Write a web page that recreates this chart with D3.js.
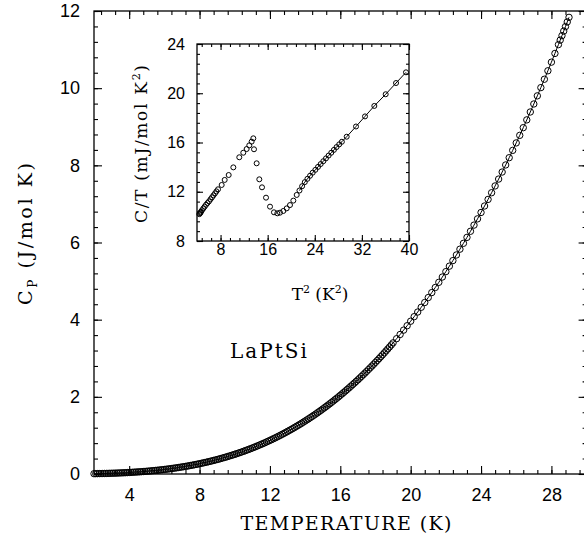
<!DOCTYPE html>
<html>
<head>
<meta charset="utf-8">
<script src="https://cdn.jsdelivr.net/npm/d3@7"></script>
<style>
  body { margin: 0; background: #fff; }
  svg { display: block; }
  .tick text { font-family: "Liberation Sans", Arial, sans-serif; fill: #000; }
  .titolo { font-family: "DejaVu Serif", serif; fill: #000; }
</style>
</head>
<body>
<svg width="584" height="546"></svg>
<script>
// LaPtSi specific heat, Cp vs T, with C/T vs T^2 inset

// DATI - grafico principale (passo fitto sotto 19 K)
var temperatura = [
  2.0, 2.1, 2.2, 2.3, 2.4, 2.5, 2.6, 2.7, 2.8, 2.9,
  3.0, 3.1, 3.2, 3.3, 3.4, 3.5, 3.6, 3.7, 3.8, 3.9,
  4.0, 4.1, 4.2, 4.3, 4.4, 4.5, 4.6, 4.7, 4.8, 4.9,
  5.0, 5.1, 5.2, 5.3, 5.4, 5.5, 5.6, 5.7, 5.8, 5.9,
  6.0, 6.1, 6.2, 6.3, 6.4, 6.5, 6.6, 6.7, 6.8, 6.9,
  7.0, 7.1, 7.2, 7.3, 7.4, 7.5, 7.6, 7.7, 7.8, 7.9,
  8.0, 8.1, 8.2, 8.3, 8.4, 8.5, 8.6, 8.7, 8.8, 8.9,
  9.0, 9.1, 9.2, 9.3, 9.4, 9.5, 9.6, 9.7, 9.8, 9.9,
  10.0, 10.1, 10.2, 10.3, 10.4, 10.5, 10.6, 10.7, 10.8, 10.9,
  11.0, 11.1, 11.2, 11.3, 11.4, 11.5, 11.6, 11.7, 11.8, 11.9,
  12.0, 12.1, 12.2, 12.3, 12.4, 12.5, 12.6, 12.7, 12.8, 12.9,
  13.0, 13.1, 13.2, 13.3, 13.4, 13.5, 13.6, 13.7, 13.8, 13.9,
  14.0, 14.1, 14.2, 14.3, 14.4, 14.5, 14.6, 14.7, 14.8, 14.9,
  15.0, 15.1, 15.2, 15.3, 15.4, 15.5, 15.6, 15.7, 15.8, 15.9,
  16.0, 16.1, 16.2, 16.3, 16.4, 16.5, 16.6, 16.7, 16.8, 16.9,
  17.0, 17.1, 17.2, 17.3, 17.4, 17.5, 17.6, 17.7, 17.8, 17.9,
  18.0, 18.1, 18.2, 18.3, 18.4, 18.5, 18.6, 18.7, 18.8, 18.9,
  19.0, 19.2, 19.4, 19.6, 19.8,
  20.0, 20.2, 20.4, 20.6, 20.8, 21.0, 21.2, 21.4, 21.6, 21.8,
  22.0, 22.2, 22.4, 22.6, 22.8, 23.0, 23.2, 23.4, 23.6, 23.8,
  24.0, 24.2, 24.4, 24.6, 24.8, 25.0, 25.2, 25.4, 25.6, 25.8,
  26.0, 26.2, 26.4, 26.6, 26.8, 27.0, 27.2, 27.4, 27.6, 27.8,
  28.0, 28.2, 28.4, 28.5, 28.6, 28.7, 28.8, 28.9, 29.0
];
var cp = [
  0.008, 0.009, 0.010, 0.011, 0.012, 0.013, 0.014, 0.015, 0.016, 0.018,
  0.019, 0.021, 0.022, 0.024, 0.026, 0.028, 0.030, 0.032, 0.034, 0.037,
  0.039, 0.042, 0.045, 0.048, 0.051, 0.054, 0.057, 0.060, 0.064, 0.067,
  0.071, 0.075, 0.079, 0.084, 0.088, 0.093, 0.097, 0.102, 0.107, 0.112,
  0.118, 0.123, 0.129, 0.135, 0.141, 0.148, 0.154, 0.161, 0.168, 0.175,
  0.182, 0.190, 0.197, 0.205, 0.213, 0.222, 0.230, 0.239, 0.248, 0.257,
  0.267, 0.277, 0.287, 0.297, 0.307, 0.318, 0.329, 0.340, 0.352, 0.363,
  0.375, 0.387, 0.400, 0.413, 0.426, 0.439, 0.453, 0.467, 0.481, 0.495,
  0.510, 0.525, 0.540, 0.556, 0.572, 0.588, 0.605, 0.622, 0.639, 0.656,
  0.674, 0.692, 0.711, 0.730, 0.749, 0.768, 0.788, 0.808, 0.829, 0.850,
  0.871, 0.892, 0.914, 0.936, 0.959, 0.982, 1.005, 1.029, 1.053, 1.078,
  1.103, 1.128, 1.153, 1.179, 1.206, 1.233, 1.260, 1.287, 1.315, 1.344,
  1.373, 1.402, 1.431, 1.461, 1.492, 1.523, 1.554, 1.586, 1.618, 1.651,
  1.684, 1.717, 1.751, 1.786, 1.820, 1.856, 1.891, 1.928, 1.964, 2.001,
  2.039, 2.077, 2.116, 2.155, 2.194, 2.234, 2.275, 2.316, 2.357, 2.399,
  2.441, 2.484, 2.528, 2.572, 2.616, 2.661, 2.707, 2.753, 2.799, 2.846,
  2.894, 2.942, 2.990, 3.040, 3.089, 3.139, 3.190, 3.242, 3.293, 3.346,
  3.399, 3.507, 3.616, 3.729, 3.843,
  3.960, 4.078, 4.198, 4.321, 4.445, 4.573, 4.702, 4.834, 4.968, 5.105,
  5.245, 5.387, 5.531, 5.677, 5.827, 5.979, 6.133, 6.291, 6.451, 6.613,
  6.778, 6.946, 7.117, 7.290, 7.466, 7.644, 7.826, 8.010, 8.198, 8.388,
  8.581, 8.777, 8.976, 9.178, 9.383, 9.590, 9.801, 10.014, 10.231, 10.451,
  10.674, 10.900, 11.129, 11.245, 11.361, 11.479, 11.596, 11.716, 11.836
];

// DATI - inset (T^2 in K^2, C/T in mJ/mol K^2)
var t_quadro = [
  4.40, 4.51, 4.60, 4.68, 4.85, 5.08, 5.30, 5.53, 5.78, 6.04,
  6.30, 6.55, 6.80, 7.06, 7.30, 7.57, 8.19, 8.70, 9.38, 10.17,
  11.18, 11.86, 12.43, 12.88, 13.28, 13.56,
  13.68, 14.13, 14.58, 15.04, 15.72, 16.40, 17.07, 17.64, 18.09, 18.66,
  19.23, 19.79, 20.36, 20.93,
  21.40, 21.85, 22.30, 22.75, 23.20, 23.65, 24.10, 24.55, 25.00, 25.45,
  25.90, 26.35, 26.80, 27.25, 27.70, 28.15, 28.60,
  29.42, 31.00, 32.53, 34.11, 36.04, 37.80, 39.49
];
var c_su_t = [
  10.18, 10.25, 10.31, 10.38, 10.50, 10.65, 10.79, 10.94, 11.08, 11.22,
  11.39, 11.55, 11.71, 11.87, 12.03, 12.20, 12.55, 12.96, 13.36, 13.98,
  14.80, 15.17, 15.47, 15.77, 16.07, 16.34,
  15.45, 14.31, 13.01, 12.36, 11.52, 10.79, 10.33, 10.25, 10.30, 10.44,
  10.65, 10.92, 11.28, 11.74,
  12.10, 12.45, 12.78, 13.05, 13.30, 13.55, 13.78, 14.02, 14.25, 14.48,
  14.71, 14.94, 15.17, 15.40, 15.63, 15.85, 16.06,
  16.47, 17.30, 18.12, 18.97, 19.92, 20.83, 21.70
];
var inizio_fit = 21.40; // la retta nell'inset parte da qui

// etichette assi
var tick_x = [4, 8, 12, 16, 20, 24, 28];
var tick_y = [0, 2, 4, 6, 8, 10, 12];
var tick_x_inset = [8, 16, 24, 32, 40];
var tick_y_inset = [8, 12, 16, 20, 24];

var svg = d3.select("svg");

// SCALE
var x = d3.scaleLinear().domain([2, 30]).range([94, 586.6]),
    y = d3.scaleLinear().domain([0, 12]).range([474, 11]),
    xi = d3.scaleLinear().domain([4, 40]).range([197, 409]),
    yi = d3.scaleLinear().domain([8, 24]).range([241, 44]);

function multipli(scala, passo) {
  // tick minori: multipli del passo dentro il dominio
  var d = scala.domain(), out = [];
  for (var k = Math.ceil(d[0] / passo - 1e-6); k * passo <= d[1] + 1e-6; k++) {
    out.push(+(k * passo).toFixed(3));
  }
  return out;
}

function disegna_assi(g, sx, sy, tx, ty, passo_x, passo_y, lung, pad_x, pad_y, font) {
  var x0 = sx.range()[0], x1 = sx.range()[1],
      y0 = sy.range()[0], y1 = sy.range()[1];
  var assi = [
    [d3.axisBottom(sx), "translate(0," + y0 + ")", tx, passo_x, true],
    [d3.axisTop(sx), "translate(0," + y1 + ")", tx, passo_x, false],
    [d3.axisLeft(sy), "translate(" + x0 + ",0)", ty, passo_y, true],
    [d3.axisRight(sy), "translate(" + x1 + ",0)", ty, passo_y, false]
  ];
  assi.forEach(function(a, i) {
    var verticale = i > 1;
    // minori
    g.append("g")
      .attr("transform", a[1])
      .call(a[0].tickValues(multipli(verticale ? sy : sx, a[3])).tickSize(-lung * 0.5).tickFormat(""))
      .call(function(s) { s.select(".domain").remove(); });
    // maggiori
    g.append("g")
      .attr("transform", a[1])
      .call(a[0].tickValues(a[2]).tickSize(-lung)
        .tickPadding(verticale ? pad_y : pad_x)
        .tickFormat(a[4] ? d3.format("d") : ""))
      .call(function(s) {
        s.select(".domain").remove();
        s.selectAll("text").style("font-size", font + "px");
      });
  });
  g.selectAll(".tick line").attr("stroke", "#000").attr("stroke-width", 1.1);
  // cornice
  g.append("rect")
    .attr("x", x0).attr("y", y1)
    .attr("width", x1 - x0).attr("height", y0 - y1)
    .attr("fill", "none").attr("stroke", "#000").attr("stroke-width", 1.3);
}

// GRAFICO PRINCIPALE
var principale = svg.append("g").attr("class", "principale");
disegna_assi(principale, x, y, tick_x, tick_y, 0.8, 0.4, 8, 14, 14, 18);

var punti = temperatura.map(function(t, i) { return [t, cp[i]]; });

principale.append("path")
  .attr("d", d3.line().x(function(d) { return x(d[0]); }).y(function(d) { return y(d[1]); })(punti))
  .attr("fill", "none").attr("stroke", "#000").attr("stroke-width", 1);

principale.append("g").selectAll("circle")
  .data(punti).enter().append("circle")
  .attr("cx", function(d) { return x(d[0]); })
  .attr("cy", function(d) { return y(d[1]); })
  .attr("r", 3.2)
  .attr("fill", "none").attr("stroke", "#000").attr("stroke-width", 1);

// titoli assi
svg.append("text").attr("class", "titolo")
  .attr("x", 346).attr("y", 530)
  .attr("text-anchor", "middle")
  .attr("textLength", 211).attr("lengthAdjust", "spacing")
  .style("font-size", "19px")
  .text("TEMPERATURE (K)");

var ty = svg.append("text").attr("class", "titolo")
  .attr("transform", "translate(32,234) rotate(-90)")
  .attr("text-anchor", "middle")
  .attr("textLength", 142).attr("lengthAdjust", "spacing")
  .style("font-size", "19px");
ty.append("tspan").text("C");
ty.append("tspan").attr("dy", 5).style("font-size", "12px").text("P");
ty.append("tspan").attr("dy", -5).text(" (J/mol K)");

svg.append("text").attr("class", "titolo")
  .attr("x", 230).attr("y", 358)
  .attr("textLength", 77).attr("lengthAdjust", "spacing")
  .style("font-size", "20px")
  .text("LaPtSi");

// INSET
var inset = svg.append("g").attr("class", "inset");
inset.append("rect")
  .attr("x", 197).attr("y", 44).attr("width", 212).attr("height", 197)
  .attr("fill", "#fff");
disegna_assi(inset, xi, yi, tick_x_inset, tick_y_inset, 1.6, 0.8, 6, 3, 12, 16);

var punti_inset = t_quadro.map(function(t, i) { return [t, c_su_t[i]]; });

inset.append("path")
  .attr("d", d3.line().x(function(d) { return xi(d[0]); }).y(function(d) { return yi(d[1]); })(
    punti_inset.filter(function(d) { return d[0] >= inizio_fit; })))
  .attr("fill", "none").attr("stroke", "#000").attr("stroke-width", 1);

inset.append("g").selectAll("circle")
  .data(punti_inset).enter().append("circle")
  .attr("cx", function(d) { return xi(d[0]); })
  .attr("cy", function(d) { return yi(d[1]); })
  .attr("r", 2.5)
  .attr("fill", "none").attr("stroke", "#000").attr("stroke-width", 1);

var tx_i = svg.append("text").attr("class", "titolo")
  .attr("x", 320).attr("y", 300)
  .attr("text-anchor", "middle")
  .style("font-size", "17px");
tx_i.append("tspan").text("T");
tx_i.append("tspan").attr("dy", -7).style("font-size", "11px").text("2");
tx_i.append("tspan").attr("dy", 7).text(" (K");
tx_i.append("tspan").attr("dy", -7).style("font-size", "11px").text("2");
tx_i.append("tspan").attr("dy", 7).text(")");

var ty_i = svg.append("text").attr("class", "titolo")
  .attr("transform", "translate(147,144) rotate(-90)")
  .attr("text-anchor", "middle")
  .attr("textLength", 158).attr("lengthAdjust", "spacing")
  .style("font-size", "17px");
ty_i.append("tspan").text("C/T (mJ/mol K");
ty_i.append("tspan").attr("dy", -7).style("font-size", "11px").text("2");
ty_i.append("tspan").attr("dy", 7).text(")");
</script>
</body>
</html>
